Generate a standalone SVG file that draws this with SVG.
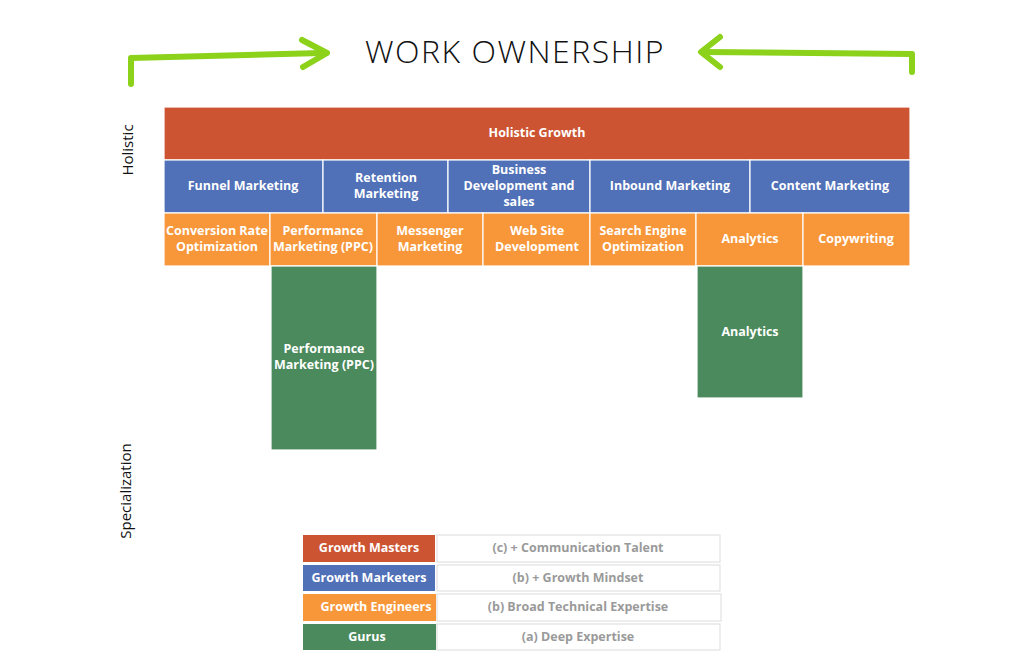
<svg xmlns="http://www.w3.org/2000/svg" width="1024" height="671" viewBox="0 0 1024 671">
<style>
.cell{stroke:#ffffff;stroke-width:1.2}
.red{fill:#CC5433}.blue{fill:#5070B8}.orange{fill:#F7973A}.green{fill:#4A8A5C}
.t{font-family:"Open Sans","DejaVu Sans",sans-serif;font-weight:bold;font-size:12.5px;fill:#ffffff;text-anchor:middle}
.lt{font-family:"Open Sans","DejaVu Sans",sans-serif;font-weight:bold;font-size:12.5px;fill:#9a9a9a;text-anchor:middle}
.side{font-family:"Open Sans","DejaVu Sans",sans-serif;font-size:15px;fill:#111;text-anchor:middle}
.arrow{fill:none;stroke:#8CD11A;stroke-width:6;stroke-linecap:round;stroke-linejoin:round}
.box{fill:#ffffff;stroke:#dcdcdc;stroke-width:1}
</style>
<rect width="1024" height="671" fill="#ffffff"/>
<g id="connectors">
<path class="arrow" d="M131,84 L131,58 L322,53"/>
<path class="arrow" d="M302,40 L327,53 L303,67"/>
<path class="arrow" d="M912,72 L912,54 L703,52"/>
<path class="arrow" d="M720,37 L701,52 L720,67"/>
</g>
<g id="title"><text x="515" y="63" font-family="'Open Sans','DejaVu Sans',sans-serif" font-size="32" fill="#111" text-anchor="middle" letter-spacing="1.5" font-weight="300">WORK OWNERSHIP</text></g>
<g id="label-holistic"><text class="side" transform="translate(133,150) rotate(-90)">Holistic</text></g>
<g id="label-specialization"><text class="side" transform="translate(131,491) rotate(-90)">Specialization</text></g>
<g id="holistic-growth"><rect class="cell red" x="164" y="107" width="746" height="53"/><text class="t" x="537" y="137" font-size="15">Holistic Growth</text></g>
<g id="funnel"><rect class="cell blue" x="164" y="160" width="159" height="53"/><text class="t" x="243" y="190">Funnel Marketing</text></g>
<g id="retention"><rect class="cell blue" x="323" y="160" width="125" height="53"/><text class="t" x="386" y="182">Retention</text><text class="t" x="386" y="198">Marketing</text></g>
<g id="bizdev"><rect class="cell blue" x="448" y="160" width="142" height="53"/><text class="t" x="519" y="174">Business</text><text class="t" x="519" y="190">Development and</text><text class="t" x="519" y="206">sales</text></g>
<g id="inbound"><rect class="cell blue" x="590" y="160" width="160" height="53"/><text class="t" x="670" y="190">Inbound Marketing</text></g>
<g id="content"><rect class="cell blue" x="750" y="160" width="160" height="53"/><text class="t" x="830" y="190">Content Marketing</text></g>
<g id="cro"><rect class="cell orange" x="164" y="213" width="106" height="53"/><text class="t" x="217" y="235">Conversion Rate</text><text class="t" x="217" y="251">Optimization</text></g>
<g id="ppc"><rect class="cell orange" x="270" y="213" width="107" height="53"/><text class="t" x="323" y="235">Performance</text><text class="t" x="323" y="251">Marketing (PPC)</text></g>
<g id="messenger"><rect class="cell orange" x="377" y="213" width="106" height="53"/><text class="t" x="430" y="235">Messenger</text><text class="t" x="430" y="251">Marketing</text></g>
<g id="website"><rect class="cell orange" x="483" y="213" width="107" height="53"/><text class="t" x="537" y="235">Web Site</text><text class="t" x="537" y="251">Development</text></g>
<g id="seo"><rect class="cell orange" x="590" y="213" width="106" height="53"/><text class="t" x="643" y="235">Search Engine</text><text class="t" x="643" y="251">Optimization</text></g>
<g id="analytics"><rect class="cell orange" x="696" y="213" width="107" height="53"/><text class="t" x="750" y="243">Analytics</text></g>
<g id="copywriting"><rect class="cell orange" x="803" y="213" width="107" height="53"/><text class="t" x="856" y="243">Copywriting</text></g>
<g id="ppc-guru"><rect class="cell green" x="271" y="266" width="106" height="184"/><text class="t" x="324" y="353">Performance</text><text class="t" x="324" y="369">Marketing (PPC)</text></g>
<g id="analytics-guru"><rect class="cell green" x="697" y="266" width="106" height="132"/><text class="t" x="750" y="336">Analytics</text></g>
<g id="legend-masters"><rect class="red" x="303" y="535" width="132" height="27"/><text class="t" x="369" y="552">Growth Masters</text><rect class="box" x="437" y="535" width="283" height="27"/><text class="lt" x="578" y="552">(c) + Communication Talent</text></g>
<g id="legend-marketers"><rect class="blue" x="303" y="565" width="132" height="26"/><text class="t" x="369" y="582">Growth Marketers</text><rect class="box" x="437" y="565" width="283" height="26"/><text class="lt" x="578" y="582">(b) + Growth Mindset</text></g>
<g id="legend-engineers"><rect class="orange" x="303" y="594" width="133" height="27"/><text class="t" x="376" y="611">Growth Engineers</text><rect class="box" x="437" y="594" width="284" height="27"/><text class="lt" x="578" y="611">(b) Broad Technical Expertise</text></g>
<g id="legend-gurus"><rect class="green" x="303" y="624" width="133" height="26"/><text class="t" x="367" y="641">Gurus</text><rect class="box" x="437" y="624" width="283" height="26"/><text class="lt" x="578" y="641">(a) Deep Expertise</text></g>
</svg>
